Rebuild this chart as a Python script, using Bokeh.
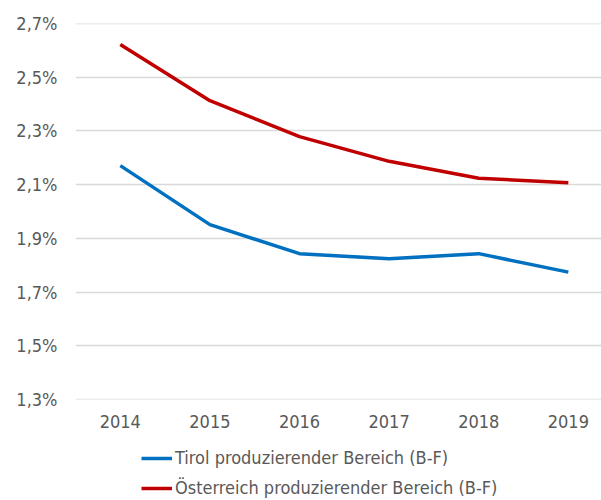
from bokeh.plotting import figure
from bokeh.models import Range1d, FixedTicker, Legend, LegendItem
from bokeh.layouts import column
from bokeh.embed import file_html
from bokeh.resources import INLINE

years = ["2014", "2015", "2016", "2017", "2018", "2019"]
tirol = [2.171, 1.951, 1.843, 1.824, 1.843, 1.774]
oesterreich = [2.622, 2.413, 2.279, 2.187, 2.124, 2.107]
y_ticks = [1.3, 1.5, 1.7, 1.9, 2.1, 2.3, 2.5, 2.7]
y_labels = ["1,3%", "1,5%", "1,7%", "1,9%", "2,1%", "2,3%", "2,5%", "2,7%"]
series_names = ["Tirol produzierender Bereich (B-F)", "Österreich produzierender Bereich (B-F)"]
colors = ["#0070C0", "#C00000"]

FONT = "DejaVu Sans Condensed"
TXT = "#595959"
FS = "18px"

xs = list(range(len(years)))

p = figure(width=601, height=440, output_backend="svg", toolbar_location=None,
           x_range=Range1d(-0.5, 5.37), y_range=Range1d(1.2995, 2.7005),
           min_border_left=75, min_border_right=0, min_border_top=23, min_border_bottom=41)
p.outline_line_color = None
p.background_fill_color = "white"
p.border_fill_color = "white"

p.line(xs, tirol, line_color=colors[0], line_width=3.5)
p.line(xs, oesterreich, line_color=colors[1], line_width=3.5)

p.xaxis.ticker = FixedTicker(ticks=xs)
p.xaxis.major_label_overrides = {i: y for i, y in enumerate(years)}
p.yaxis.ticker = FixedTicker(ticks=y_ticks)
p.yaxis.major_label_overrides = {t: l for t, l in zip(y_ticks, y_labels)}

for ax in (p.xaxis[0], p.yaxis[0]):
    ax.axis_line_color = None
    ax.major_tick_line_color = None
    ax.minor_tick_line_color = None
    ax.major_tick_out = 0
    ax.major_tick_in = 0
    ax.major_label_text_font = FONT
    ax.major_label_text_font_size = FS
    ax.major_label_text_color = TXT
p.xaxis.major_label_standoff = 15
p.yaxis.major_label_standoff = 18

p.xgrid.grid_line_color = None
p.ygrid.grid_line_color = "#D9D9D9"
p.ygrid.grid_line_width = 1.5

# legend panel (series lines drawn out of its visible range; only legend swatches show)
lg = figure(width=601, height=60, output_backend="svg", toolbar_location=None,
            x_range=Range1d(100, 101), y_range=Range1d(100, 101),
            min_border_left=0, min_border_right=0, min_border_top=0, min_border_bottom=0)
lg.axis.visible = False
lg.grid.grid_line_color = None
lg.outline_line_color = None
lg.border_fill_color = "white"
lg.background_fill_color = "white"
l1 = lg.line(xs, tirol, line_color=colors[0], line_width=3.5)
l2 = lg.line(xs, oesterreich, line_color=colors[1], line_width=3.5)

legend = Legend(items=[LegendItem(label=series_names[0], renderers=[l1]),
                       LegendItem(label=series_names[1], renderers=[l2])],
                location=(66, 2), orientation="vertical")
legend.border_line_color = None
legend.background_fill_alpha = 0
legend.padding = 0
legend.margin = 0
legend.spacing = 9
legend.glyph_width = 31
legend.glyph_height = 20
legend.label_height = 20
legend.label_standoff = 3
legend.label_text_font = FONT
legend.label_text_font_size = FS
legend.label_text_color = TXT
lg.add_layout(legend, "center")

layout = column(p, lg, spacing=0)
open("out.html", "w").write(file_html(layout, INLINE))
